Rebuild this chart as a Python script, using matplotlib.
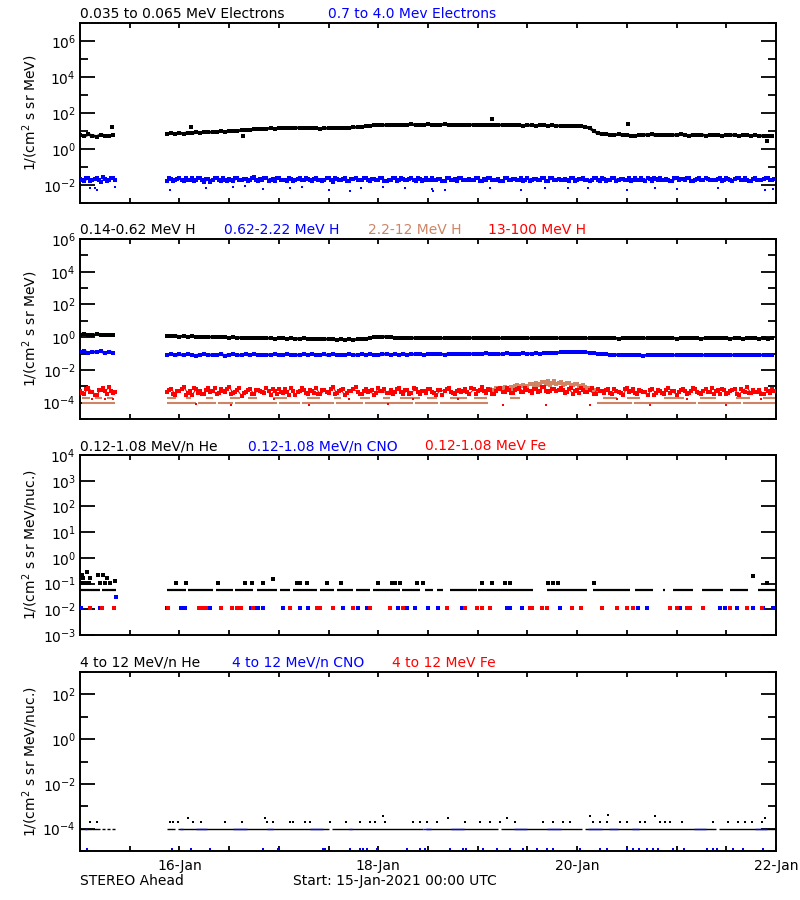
import numpy as np
import matplotlib
matplotlib.use('Agg')
import matplotlib.pyplot as plt
from matplotlib.ticker import NullFormatter

BLUE = '#0000ff'
RED = '#ff0000'
BROWN = '#cd8566'

# hourly samples (in days from 15-Jan 00:00): 00-08 UT, data gap, then 21 UT onwards
days = np.concatenate([np.arange(0, 9), np.arange(21, 168)]) / 24.0
n_first = 9  # samples before the data gap

# ---- panel 1: electrons ----
e_lo = [5.8, 5.2, 6.4, 5.5, 4.9, 6.1, 5.6, 5.3, 6.0,
        7.0, 7.4, 6.8, 7.6, 7.2, 8.0, 7.5, 8.3, 7.9, 8.6, 8.8, 8.4,
        9.2, 9.6, 9.1, 10.2, 10.6, 10.0, 11.3, 11.8, 11.0, 12.4, 12.9, 12.2,
        13.5, 14.2, 13.4, 14.8, 15.3, 14.6, 15.0, 14.4, 15.6, 14.9, 14.2, 15.1,
        14.0, 13.6, 14.5, 13.9, 14.3, 13.8, 14.6, 15.2, 14.7, 15.8, 16.4, 17.2,
        18.3, 19.5, 20.4, 21.2, 20.6, 21.8, 22.4, 21.5, 22.9, 21.7, 22.6, 23.1,
        22.0, 21.4, 22.8, 23.3, 22.1, 21.6, 22.7, 23.0, 21.9, 22.5, 21.3, 22.2,
        21.8, 22.9, 21.5, 20.9, 22.1, 21.4, 20.7, 21.9, 22.3, 21.1, 20.5, 21.6,
        20.8, 21.5, 20.2, 21.0, 20.6, 19.8, 20.9, 20.3, 19.6, 20.4, 19.9, 19.2,
        19.7, 18.9, 19.4, 18.6, 18.1, 17.0, 14.5, 10.2, 7.4, 6.6, 6.9, 6.3,
        6.1, 6.5, 5.8, 6.2, 5.5, 5.2, 5.9, 6.3, 6.0, 6.4, 5.7, 6.1,
        6.3, 5.9, 6.2, 5.8, 6.4, 6.0, 5.6, 6.2, 5.9, 6.3, 5.5, 6.0,
        5.8, 6.1, 5.4, 5.9, 6.2, 5.7, 5.3, 5.8, 6.0, 5.5, 5.9, 5.2,
        5.6, 5.1, 5.4]
e_lo_out_t = [0.32, 1.12, 1.64, 4.14, 5.51, 6.91]
e_lo_out_v = [16, 16, 5.0, 46, 25, 2.9]

# units of 1e-2, two readings per hour
e_hi_1 = [2.1, 1.6, 2.4, 1.8, 2.6, 1.5, 2.2, 1.9, 2.3,
          1.7, 2.2, 1.9, 2.5, 1.6, 2.0, 2.3, 1.8, 2.6, 1.5, 2.1, 1.9,
          2.4, 1.7, 2.0, 2.2, 1.6, 2.5, 1.9, 2.1, 1.8, 2.7, 1.6, 2.0,
          2.3, 1.9, 1.7, 2.4, 2.0, 1.6, 2.2, 1.8, 2.5, 1.9, 2.1, 1.7,
          2.6, 2.0, 1.8, 2.3, 1.5, 2.1, 1.9, 2.4, 1.7, 2.2, 2.0, 1.8,
          2.5, 1.6, 2.1, 1.9, 2.3, 1.7, 2.0, 2.6, 1.8, 2.2, 1.9, 2.4,
          1.6, 2.1, 2.0, 1.8, 2.5, 1.9, 2.2, 1.7, 2.3, 2.0, 1.6, 2.4,
          1.9, 2.2, 1.8, 2.6, 1.7, 2.0, 2.3, 1.9, 2.1, 1.6, 2.5, 1.8,
          2.2, 2.0, 1.7, 2.4, 1.9, 2.1, 1.8, 2.3, 1.6, 2.6, 2.0, 1.9,
          2.2, 1.7, 2.4, 1.8, 2.1, 2.0, 1.6, 2.5, 1.9, 2.3, 1.7, 2.0,
          2.4, 1.8, 2.2, 1.9, 1.6, 2.6, 2.0, 1.8, 2.3, 1.7, 2.1, 2.5,
          1.9, 2.0, 1.7, 2.3, 2.2, 1.8, 2.5, 1.6, 2.1, 1.9, 2.4, 2.0,
          1.8, 2.2, 1.7, 2.6, 1.9, 2.1, 2.3, 1.8, 2.0, 1.6, 2.4, 1.9,
          2.1, 2.5, 1.8]
e_hi_2 = [1.8, 2.5, 1.7, 2.2, 1.9, 2.7, 1.6, 2.4, 2.0,
          2.3, 1.6, 2.1, 1.8, 2.4, 2.0, 1.7, 2.6, 1.9, 2.2, 1.5, 2.3,
          1.9, 2.5, 1.7, 2.0, 2.3, 1.8, 2.1, 1.6, 2.4, 1.9, 2.2, 2.6,
          1.7, 2.1, 2.4, 1.8, 2.0, 2.5, 1.6, 2.2, 1.9, 2.3, 1.8, 2.1,
          2.0, 1.7, 2.4, 1.9, 2.6, 1.8, 2.2, 1.6, 2.1, 2.3, 1.9, 2.5,
          1.8, 2.2, 1.9, 2.4, 1.6, 2.0, 2.3, 1.7, 2.5, 1.9, 2.1, 1.8,
          2.3, 1.7, 2.5, 2.0, 1.8, 2.2, 1.6, 2.4, 1.9, 2.1, 2.6, 1.8,
          2.0, 1.9, 2.3, 1.7, 2.2, 2.5, 1.8, 2.0, 1.6, 2.4, 1.9, 2.1,
          1.8, 2.4, 2.0, 1.7, 2.2, 1.9, 2.5, 1.6, 2.3, 1.8, 2.1, 2.0,
          1.9, 2.3, 1.7, 2.1, 2.6, 1.8, 2.0, 2.4, 1.6, 2.2, 1.9, 2.5,
          1.7, 2.1, 1.9, 2.3, 2.0, 1.8, 2.4, 1.6, 2.2, 2.5, 1.8, 2.0,
          2.2, 1.6, 2.4, 1.9, 2.1, 2.3, 1.7, 2.0, 2.6, 1.8, 2.2, 1.9,
          2.0, 2.4, 1.8, 2.1, 1.7, 2.3, 1.9, 2.5, 1.6, 2.2, 2.0, 1.8,
          2.3, 1.9, 2.1]
# low outliers, units of 1e-3
e_hi_out_t = [0.10, 0.15, 0.17, 0.35, 0.91, 1.27, 1.54, 1.66, 1.84, 2.11, 2.23, 2.50, 2.72, 2.83, 3.05,
              3.27, 3.54, 3.55, 3.67, 4.12, 4.44, 4.68, 4.91, 5.11, 5.50, 5.78, 6.00, 6.42, 6.89, 6.97]
e_hi_out_v = [6.5, 7.0, 5.5, 8.0, 5.0, 6.5, 7.5, 8.5, 6.0, 6.5, 8.0, 5.5, 4.8, 6.8, 7.5,
              6.5, 6.0, 4.8, 5.2, 6.5, 5.3, 7.2, 6.8, 6.5, 5.0, 6.8, 6.0, 7.0, 5.0, 6.0]

# ---- panel 2: protons ----
h_lo = [1.45, 1.62, 1.38, 1.30, 1.50, 1.35, 1.42, 1.28, 1.36,
        1.18, 1.12, 1.20, 1.10, 1.15, 1.07, 1.13, 1.05, 1.09, 1.02, 1.06, 0.99,
        1.03, 0.96, 1.00, 0.93, 0.97, 0.91, 0.95, 0.88, 0.92, 0.86, 0.90, 0.87,
        0.84, 0.89, 0.82, 0.87, 0.85, 0.80, 0.86, 0.83, 0.79, 0.84, 0.81, 0.78,
        0.82, 0.77, 0.75, 0.79, 0.74, 0.72, 0.76, 0.71, 0.74, 0.70, 0.73, 0.78,
        0.82, 0.90, 0.97, 1.05, 1.10, 1.02, 0.96, 0.92, 0.95, 0.89, 0.93, 0.87,
        0.91, 0.86, 0.90, 0.94, 0.88, 0.92, 0.85, 0.89, 0.93, 0.87, 0.91, 0.86,
        0.90, 0.88, 0.92, 0.85, 0.89, 0.94, 0.87, 0.91, 0.86, 0.90, 0.93, 0.88,
        0.85, 0.89, 0.92, 0.87, 0.90, 0.84, 0.88, 0.91, 0.86, 0.89, 0.85, 0.92,
        0.88, 0.91, 0.86, 0.90, 0.87, 0.84, 0.89, 0.92, 0.86, 0.88, 0.85, 0.90,
        0.87, 0.83, 0.88, 0.91, 0.85, 0.89, 0.86, 0.90, 0.84, 0.88, 0.92, 0.86,
        0.89, 0.85, 0.88, 0.83, 0.87, 0.90, 0.84, 0.88, 0.86, 0.82, 0.87, 0.85,
        0.88, 0.84, 0.86, 0.89, 0.83, 0.87, 0.85, 0.81, 0.86, 0.84, 0.88, 0.83,
        0.85, 0.82, 0.86]

# units of 1e-2
h_mid = [12.5, 14.0, 11.0, 13.0, 11.8, 14.5, 10.5, 12.8, 11.5,
         8.4, 9.2, 7.6, 8.8, 7.9, 9.0, 8.1, 7.4, 8.7, 9.3, 7.8, 8.5,
         8.0, 8.9, 7.5, 8.6, 9.1, 7.7, 8.3, 8.8, 7.9, 9.4, 8.2, 7.6,
         8.7, 8.1, 9.0, 7.8, 8.5, 9.2, 8.0, 8.6, 7.7, 8.9, 8.3, 9.1,
         7.9, 8.4, 8.8, 7.6, 9.0, 8.2, 8.7, 8.0, 9.3, 7.8, 8.5, 8.9,
         8.1, 9.2, 8.6, 7.9, 8.8, 9.4, 8.3, 9.0, 8.5, 9.6, 8.7, 9.1,
         8.9, 9.5, 8.4, 9.2, 9.8, 8.8, 9.3, 8.6, 9.7, 9.0, 9.4, 8.8,
         9.6, 9.1, 9.9, 8.9, 9.4, 10.1, 9.2, 9.7, 9.0, 9.5, 10.2, 9.3,
         9.8, 9.4, 10.3, 9.6, 10.0, 10.6, 9.9, 10.4, 10.9, 10.5, 11.2, 11.8,
         12.3, 12.8, 13.2, 12.6, 12.9, 12.1, 11.4, 10.6, 9.8, 9.2, 8.9, 8.5,
         8.2, 8.7, 7.9, 8.4, 8.0, 7.7, 8.3, 7.5, 8.1, 7.8, 8.5, 7.6,
         8.0, 8.4, 7.7, 8.2, 7.9, 8.6, 7.8, 8.3, 8.0, 7.6, 8.4, 8.1,
         7.9, 8.3, 8.6, 8.0, 7.7, 8.5, 8.2, 7.9, 8.4, 8.1, 8.7, 8.3,
         8.0, 8.5, 8.2]

# 13-100 MeV H, units of 1e-4, two readings per hour
h_top_1 = [5.2, 3.6, 7.8, 4.4, 2.9, 6.1, 4.8, 8.5, 3.9,
           4.6, 7.2, 3.1, 5.5, 8.8, 4.0, 2.8, 6.4, 4.9, 3.5, 7.6, 5.1,
           3.3, 6.8, 4.3, 9.1, 3.8, 5.7, 2.7, 4.7, 7.0, 3.4, 5.9, 4.2,
           8.1, 3.0, 5.3, 6.5, 3.7, 4.5, 7.9, 2.9, 5.0, 6.2, 3.6, 4.8,
           7.4, 3.2, 5.6, 4.1, 8.6, 3.9, 6.0, 2.8, 5.4, 7.1, 4.4, 3.5,
           6.6, 4.9, 3.1, 7.7, 5.2, 3.8, 6.3, 4.6, 8.3, 3.3, 5.8, 4.0,
           7.3, 3.6, 5.1, 6.9, 4.3, 2.9, 6.1, 4.8, 8.0, 3.7, 5.5, 4.2,
           7.0, 3.4, 6.4, 5.0, 8.9, 4.1, 5.7, 3.2, 6.7, 4.5, 7.5, 3.9,
           5.9, 8.4, 4.7, 6.2, 3.8, 7.2, 5.3, 9.3, 4.4, 6.8, 5.1, 7.8,
           4.0, 6.5, 3.6, 5.6, 8.2, 4.3, 6.0, 3.3, 7.1, 4.9, 5.8, 3.7,
           6.9, 4.2, 3.0, 7.4, 5.4, 3.8, 6.3, 4.6, 2.8, 6.6, 4.1, 5.2,
           3.5, 7.9, 4.8, 3.1, 6.1, 5.0, 3.9, 8.1, 4.4, 3.2, 6.7, 4.7,
           3.6, 5.9, 7.0, 3.4, 4.9, 6.4, 3.0, 5.5, 8.5, 3.8, 4.5, 6.2,
           3.3, 5.1, 7.3]
h_top_2 = [3.8, 6.9, 4.5, 3.0, 5.8, 7.4, 3.4, 5.0, 4.2,
           5.9, 3.4, 4.8, 6.7, 3.0, 5.3, 7.5, 4.1, 3.6, 6.0, 4.5, 8.2,
           3.9, 5.0, 6.4, 3.2, 4.7, 7.8, 4.0, 5.6, 3.3, 6.3, 4.9, 3.7,
           5.4, 7.1, 3.5, 4.6, 6.8, 3.1, 5.2, 4.3, 7.7, 3.8, 6.1, 4.0,
           3.4, 5.7, 4.4, 7.3, 3.6, 5.1, 6.6, 3.9, 4.8, 8.7, 3.2, 5.5,
           4.2, 6.2, 3.7, 5.0, 7.0, 4.1, 3.3, 6.5, 4.7, 5.9, 3.5, 7.6,
           4.5, 5.3, 3.8, 6.8, 4.0, 5.7, 3.1, 7.2, 4.6, 3.6, 6.0, 5.1,
           4.3, 7.9, 3.5, 5.6, 4.8, 6.4, 3.2, 5.0, 8.0, 4.2, 6.1, 3.7,
           6.6, 4.4, 7.4, 5.2, 6.9, 4.7, 8.6, 5.5, 4.9, 7.1, 5.8, 6.3,
           4.6, 7.5, 5.0, 3.9, 6.2, 4.4, 7.7, 3.5, 5.3, 4.1, 6.8, 3.6,
           5.1, 3.8, 6.5, 4.3, 7.2, 3.4, 5.0, 4.7, 6.0, 3.1, 5.6, 4.0,
           6.3, 3.7, 5.4, 4.5, 7.0, 3.3, 4.9, 6.6, 3.9, 5.2, 4.2, 7.4,
           4.8, 3.5, 6.1, 4.0, 5.7, 3.2, 6.9, 4.4, 3.8, 5.9, 4.6, 3.3,
           6.4, 4.1, 5.5]
h_top_out_t = [0.12, 0.25, 0.33, 1.17, 1.52, 1.95, 2.30, 2.71, 3.10, 3.35,
               3.80, 4.25, 4.69, 5.13, 5.40, 5.73, 6.10, 6.50, 6.85]
h_top_out_v = [1.6, 1.6, 1.6, 0.78, 0.75, 1.6, 0.75, 1.6, 0.78, 1.6,
               1.6, 0.75, 0.72, 0.75, 1.6, 0.75, 1.6, 0.72, 1.6]

# 2.2-12 MeV H: one-count level, two-count level (segments in days), and the bump
h_high_floor = 9.3e-5
h_high_floor_seg = [(0.02, 0.35), (0.87, 1.17), (1.19, 1.37), (1.39, 1.54), (1.56, 1.98), (2.00, 2.21),
                    (2.23, 2.55), (2.57, 2.85), (2.87, 3.35), (3.37, 3.60), (3.62, 4.10), (5.20, 5.55),
                    (5.57, 6.20), (6.22, 6.65), (6.67, 7.0)]
h_high_two = 1.9e-4
h_high_two_seg = [(0.02, 0.10), (0.15, 0.22), (0.27, 0.33), (0.87, 0.97), (1.07, 1.12), (1.27, 1.34),
                  (1.51, 1.61), (1.69, 1.78), (1.94, 2.08), (2.28, 2.41), (2.55, 2.62), (2.82, 2.92),
                  (3.05, 3.12), (3.22, 3.42), (3.49, 3.59), (3.72, 3.89), (3.96, 4.09), (4.32, 4.43),
                  (5.26, 5.40), (5.50, 5.63), (5.87, 6.07), (6.24, 6.40), (6.60, 6.74), (6.87, 7.0)]
bump_hours = np.arange(98, 125)
h_high_bump_1 = [5.5, 6.8, 5.9, 7.6, 8.4, 7.1, 9.6, 10.8, 9.0, 12.4, 11.1, 13.8, 15.5, 12.9,
                 17.2, 22.0, 16.4, 14.6, 19.3, 13.2, 15.8, 12.1, 14.4, 10.5, 9.2, 7.4, 6.0]
h_high_bump_2 = [6.2, 5.1, 7.9, 6.5, 9.3, 8.0, 7.2, 11.5, 9.9, 8.6, 14.1, 10.4, 12.2, 18.5,
                 14.0, 11.6, 20.5, 15.1, 12.7, 16.9, 11.3, 13.5, 9.8, 11.9, 8.1, 6.7, 5.4]

# ---- panel 3: 0.12-1.08 MeV/n ions ----
he_lo_floor = 0.055
he_lo_seg = [(0.0, 0.20), (0.22, 0.36), (0.87, 1.07), (1.09, 1.34), (1.37, 1.54), (1.56, 1.74),
             (1.78, 1.98), (2.01, 2.11), (2.14, 2.38), (2.41, 2.55), (2.58, 2.75), (2.78, 2.92),
             (2.95, 3.22), (3.24, 3.42), (3.47, 3.55), (3.59, 3.65), (3.72, 3.99), (4.00, 4.56),
             (4.70, 5.10), (5.16, 5.53), (5.58, 5.76), (5.86, 5.88), (5.96, 6.17), (6.26, 6.47),
             (6.54, 6.72), (6.82, 7.0)]
he_lo_dot_t = [0.01, 0.02, 0.03, 0.05, 0.07, 0.09, 0.10, 0.18, 0.20, 0.23, 0.25, 0.27, 0.30, 0.35,
               0.97, 1.07, 1.39, 1.66, 1.73, 1.84, 1.94, 2.18, 2.21, 2.28, 2.48, 2.63, 3.00, 3.14,
               3.17, 3.22, 3.39, 3.45, 4.04, 4.14, 4.27, 4.32, 4.71, 4.76, 4.81, 5.17, 6.77, 6.91]
he_lo_dot_v = [0.11, 0.22, 0.17, 0.11, 0.28, 0.11, 0.17, 0.22, 0.11, 0.22, 0.11, 0.17, 0.11, 0.13,
               0.11, 0.11, 0.11, 0.11, 0.11, 0.11, 0.15, 0.11, 0.11, 0.11, 0.11, 0.11, 0.11, 0.11,
               0.11, 0.11, 0.11, 0.11, 0.11, 0.11, 0.11, 0.11, 0.11, 0.11, 0.11, 0.11, 0.20, 0.11]
cno_lo_t = [0.01, 0.20, 0.88, 1.02, 1.06, 1.31, 1.59, 1.72, 1.77, 1.79, 1.84, 2.04, 2.21, 2.29,
            2.65, 2.80, 2.89, 3.20, 3.29, 3.37, 3.50, 3.60, 3.84, 4.29, 4.32, 4.45, 4.83, 5.61,
            5.70, 6.03, 6.44, 6.49, 6.61, 6.77, 6.87, 6.97, 0.36]
cno_lo_v = [0.0115] * 36 + [0.03]
fe_lo_t = [0.10, 0.22, 0.34, 0.89, 1.20, 1.23, 1.27, 1.42, 1.53, 1.58, 1.62, 1.74, 2.11, 2.38,
           2.41, 2.54, 2.75, 2.92, 3.12, 3.25, 3.69, 3.87, 3.99, 4.04, 4.12, 4.53, 4.55, 4.65,
           4.70, 4.95, 5.04, 5.25, 5.40, 5.50, 5.56, 5.93, 6.00, 6.10, 6.14, 6.27, 6.54, 6.71, 6.86]
fe_lo_v = [0.0115] * 43

# ---- panel 4: 4-12 MeV/n ions ----
he_hi_floor = 1.0e-4
he_hi_seg = [(0.0, 0.20), (0.22, 0.25), (0.27, 0.30), (0.32, 0.35), (0.87, 0.96), (0.99, 2.50),
             (2.53, 3.45), (3.48, 4.20), (4.23, 5.05), (5.08, 6.40), (6.43, 7.0)]
cno_hi_seg = [(0.05, 0.07), (1.01, 1.04), (1.17, 1.28), (1.54, 1.68), (1.88, 1.94), (2.31, 2.44),
              (2.71, 2.74), (3.45, 3.53), (3.73, 3.86), (4.36, 4.50), (4.70, 4.84), (5.11, 5.25),
              (5.32, 5.41), (5.55, 5.62), (6.18, 6.30), (6.79, 6.91)]
he_hi_dot_t = [0.10, 0.17, 0.91, 0.94, 0.99, 1.09, 1.14, 1.22, 1.46, 1.63, 1.86, 1.88, 1.94, 2.11,
               2.14, 2.26, 2.31, 2.51, 2.68, 2.82, 2.92, 2.97, 3.05, 3.07, 3.35, 3.42, 3.49, 3.59,
               3.70, 3.87, 4.02, 4.12, 4.22, 4.29, 4.37, 4.66, 4.76, 4.86, 4.93, 5.13, 5.16, 5.23,
               5.30, 5.31, 5.43, 5.50, 5.63, 5.68, 5.78, 5.83, 5.88, 5.93, 6.05, 6.37, 6.52, 6.62,
               6.69, 6.76, 6.86, 6.89]
he_hi_dot_v = [2e-4, 2e-4, 2e-4, 2e-4, 2e-4, 3e-4, 2e-4, 2e-4, 2e-4, 2e-4, 3e-4, 2e-4, 2e-4, 2e-4,
               2e-4, 2e-4, 2e-4, 2e-4, 2e-4, 2e-4, 2e-4, 2e-4, 3.5e-4, 2e-4, 2e-4, 2e-4, 2e-4, 2e-4,
               3e-4, 2e-4, 2e-4, 2e-4, 2e-4, 3e-4, 2e-4, 2e-4, 2e-4, 2e-4, 2e-4, 3.6e-4, 2e-4, 2e-4,
               2e-4, 4e-4, 2e-4, 2e-4, 2e-4, 2e-4, 3.5e-4, 2e-4, 2e-4, 2e-4, 2e-4, 2e-4, 2e-4, 2e-4,
               2e-4, 2e-4, 2e-4, 3e-4]
cno_hi_dot_t = [0.07, 0.93, 1.12, 1.31, 1.84, 1.99, 2.44, 2.46, 2.72, 2.82, 2.85, 2.89, 2.99, 3.29,
                3.42, 3.47, 3.72, 3.85, 3.88, 4.05, 4.19, 4.32, 4.46, 4.60, 4.70, 4.76, 5.03, 5.23,
                5.30, 5.50, 5.56, 5.62, 5.70, 5.76, 5.81, 5.96, 6.07, 6.31, 6.37, 6.41, 6.57, 6.67,
                6.87]
cno_hi_dot_v = [1.2e-5] * 43

tick_days = [1, 3, 5, 7]
tick_names = ['16-Jan', '18-Jan', '20-Jan', '22-Jan']


def frame(ax, ylim, major, minor, ylabel):
    ax.set_xlim(0, 7)
    ax.set_yscale('log')
    ax.set_ylim(*ylim)
    ax.set_yticks(major)
    ax.set_yticks(minor, minor=True)
    ax.yaxis.set_minor_formatter(NullFormatter())
    ax.tick_params(axis='y', which='major', direction='in', length=10.8, width=1.3,
                   right=True, labelsize=10, pad=3)
    ax.tick_params(axis='y', which='minor', direction='in', length=5.8, width=1.3, right=True)
    ax.set_xticks(tick_days)
    ax.set_xticks(np.arange(0.5, 7, 0.5), minor=True)
    ax.tick_params(axis='x', which='both', direction='in', top=True, length=3.6, width=1.3)
    ax.set_xticklabels([])
    for s in ax.spines.values():
        s.set_linewidth(1.4)
    ax.set_ylabel(ylabel, fontsize=10)
    ax.yaxis.set_label_coords(-0.057, 0.5)


def header(y_px, parts):
    for x_px, txt, col in parts:
        fig.text(x_px / 800, 1 - y_px / 900, txt, color=col, fontsize=10, va='baseline', ha='left')


def dots(ax, t, v, col, ms=2.2):
    ax.plot(t, v, 's', ms=ms, mew=0, color=col, zorder=3)


def band(ax, t, v, col, lw=1.6, ms=2.2):
    # dense series: join the samples on each side of the data gap, then mark them
    t = np.asarray(t)
    v = np.asarray(v)
    ax.plot(t[:n_first], v[:n_first], '-', lw=lw, color=col, zorder=3)
    ax.plot(t[n_first:], v[n_first:], '-', lw=lw, color=col, zorder=3)
    dots(ax, t, v, col, ms)


def segs(ax, level, seglist, col, lw):
    ax.hlines([level] * len(seglist), [s[0] for s in seglist], [s[1] for s in seglist],
              colors=col, lw=lw, zorder=2)


fig = plt.figure(figsize=(8, 9), dpi=100)
ax1 = fig.add_axes([0.1, 1 - 203 / 900, 0.87, 180 / 900])
ax2 = fig.add_axes([0.1, 1 - 419 / 900, 0.87, 180 / 900])
ax3 = fig.add_axes([0.1, 1 - 635 / 900, 0.87, 180 / 900])
ax4 = fig.add_axes([0.1, 1 - 851 / 900, 0.87, 179 / 900])

half = 0.5 / 24

# panel 1
band(ax1, days, e_lo, 'k', 2.0, 2.6)
dots(ax1, e_lo_out_t, e_lo_out_v, 'k')
band(ax1, days, np.array(e_hi_1) * 1e-2, BLUE, 1.0, 2.2)
dots(ax1, days + half, np.array(e_hi_2) * 1e-2, BLUE)
dots(ax1, e_hi_out_t, np.array(e_hi_out_v) * 1e-3, BLUE, 2.0)
frame(ax1, (1e-3, 1e7), [1e-2, 1, 1e2, 1e4, 1e6], [1e-3, 1e-1, 1e1, 1e3, 1e5, 1e7],
      '1/(cm$^2$ s sr MeV)')
header(18, [(80, '0.035 to 0.065 MeV Electrons', 'k'), (328, '0.7 to 4.0 Mev Electrons', BLUE)])

# panel 2
band(ax2, days, h_lo, 'k', 2.0, 2.4)
band(ax2, days, np.array(h_mid) * 1e-2, BLUE, 2.0, 2.6)
segs(ax2, h_high_floor, h_high_floor_seg, BROWN, 1.5)
segs(ax2, h_high_two, h_high_two_seg, BROWN, 1.5)
dots(ax2, bump_hours / 24, np.array(h_high_bump_1) * 1e-4, BROWN)
dots(ax2, bump_hours / 24 + half, np.array(h_high_bump_2) * 1e-4, BROWN)
band(ax2, days, np.array(h_top_1) * 1e-4, RED, 0.8, 2.2)
dots(ax2, days + half, np.array(h_top_2) * 1e-4, RED)
dots(ax2, h_top_out_t, np.array(h_top_out_v) * 1e-4, RED, 2.0)
frame(ax2, (1e-5, 1e6), [1e-4, 1e-2, 1, 1e2, 1e4, 1e6], [1e-5, 1e-3, 1e-1, 1e1, 1e3, 1e5],
      '1/(cm$^2$ s sr MeV)')
header(234, [(80, '0.14-0.62 MeV H', 'k'), (224, '0.62-2.22 MeV H', BLUE),
             (368, '2.2-12 MeV H', BROWN), (488, '13-100 MeV H', RED)])

# panel 3
segs(ax3, he_lo_floor, he_lo_seg, 'k', 1.6)
dots(ax3, he_lo_dot_t, he_lo_dot_v, 'k')
dots(ax3, cno_lo_t, cno_lo_v, BLUE)
dots(ax3, fe_lo_t, fe_lo_v, RED)
frame(ax3, (1e-3, 1e4), [1e-3, 1e-2, 1e-1, 1, 1e1, 1e2, 1e3, 1e4], [],
      '1/(cm$^2$ s sr MeV/nuc.)')
header(450, [(80, '0.12-1.08 MeV/n He', 'k'), (248, '0.12-1.08 MeV/n CNO', BLUE),
             (425, '0.12-1.08 MeV Fe', RED)])

# panel 4
segs(ax4, he_hi_floor, he_hi_seg, 'k', 1.0)
segs(ax4, he_hi_floor, cno_hi_seg, BLUE, 1.0)
dots(ax4, he_hi_dot_t, he_hi_dot_v, 'k', 2.0)
dots(ax4, cno_hi_dot_t, cno_hi_dot_v, BLUE, 2.0)
frame(ax4, (1e-5, 1e3), [1e-4, 1e-2, 1, 1e2], [1e-5, 1e-3, 1e-1, 1e1, 1e3],
      '1/(cm$^2$ s sr MeV/nuc.)')
ax4.set_xticklabels(tick_names, fontsize=10)
ax4.tick_params(axis='x', pad=6)
header(667, [(80, '4 to 12 MeV/n He', 'k'), (232, '4 to 12 MeV/n CNO', BLUE),
             (392, '4 to 12 MeV Fe', RED)])

fig.text(80 / 800, 1 - 885 / 900, 'STEREO Ahead', fontsize=10, va='baseline', ha='left')
fig.text(293 / 800, 1 - 885 / 900, 'Start: 15-Jan-2021 00:00 UTC', fontsize=10, va='baseline', ha='left')

fig.savefig('out.png', dpi=100)
